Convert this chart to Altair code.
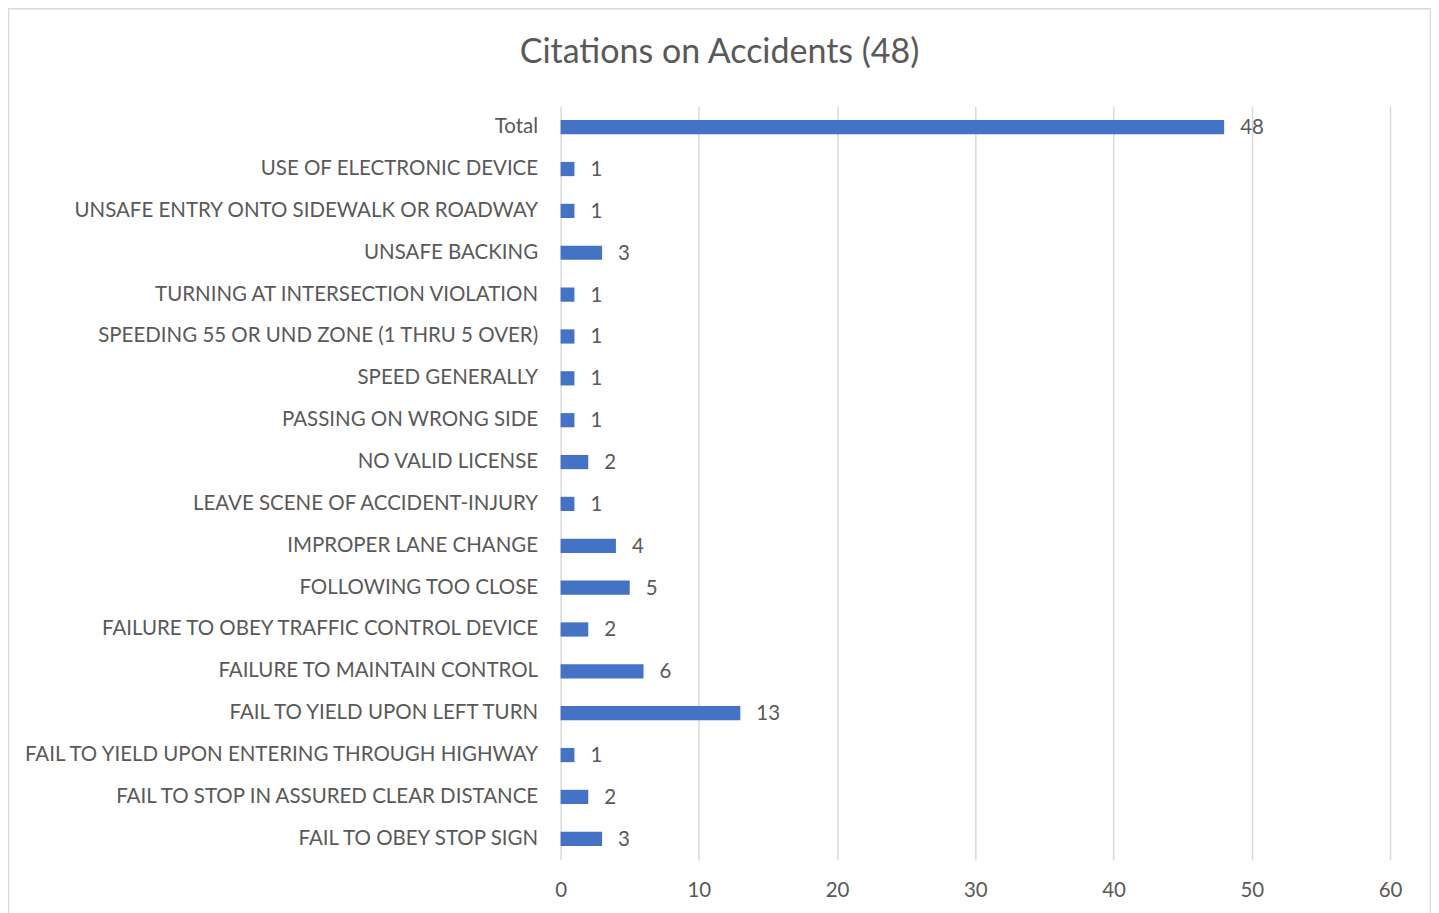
import altair as alt
import pandas as pd

categories = [
    "Total",
    "USE OF ELECTRONIC DEVICE",
    "UNSAFE ENTRY ONTO SIDEWALK OR ROADWAY",
    "UNSAFE BACKING",
    "TURNING AT INTERSECTION VIOLATION",
    "SPEEDING 55 OR UND ZONE (1 THRU 5 OVER)",
    "SPEED GENERALLY",
    "PASSING ON WRONG SIDE",
    "NO VALID LICENSE",
    "LEAVE SCENE OF ACCIDENT-INJURY",
    "IMPROPER LANE CHANGE",
    "FOLLOWING TOO CLOSE",
    "FAILURE TO OBEY TRAFFIC CONTROL DEVICE",
    "FAILURE TO MAINTAIN CONTROL",
    "FAIL TO YIELD UPON LEFT TURN",
    "FAIL TO YIELD UPON ENTERING THROUGH HIGHWAY",
    "FAIL TO STOP IN ASSURED CLEAR DISTANCE",
    "FAIL TO OBEY STOP SIGN",
]
counts = [48, 1, 1, 3, 1, 1, 1, 1, 2, 1, 4, 5, 2, 6, 13, 1, 2, 3]
x_ticks = [0, 10, 20, 30, 40, 50, 60]

df = pd.DataFrame({"category": categories, "count": counts})

FONT = "Lato"
TXT = "#595959"
W, H = 830, 754
FS = 20.5
TOP = 98

y_enc = alt.Y("category:N", sort=categories, title=None,
              scale=alt.Scale(paddingInner=0.66, paddingOuter=0.33),
              axis=alt.Axis(labelFont=FONT, labelFontSize=FS, labelColor=TXT,
                            ticks=False, domain=False, labelPadding=23,
                            labelLimit=600))
x_enc = alt.X("count:Q", title=None,
              scale=alt.Scale(domain=[0, 60], nice=False),
              axis=alt.Axis(values=x_ticks, labelFont=FONT, labelFontSize=FS,
                            labelColor=TXT, ticks=False, domain=False,
                            labelFlush=False,
                            grid=True, gridColor="#d9d9d9", gridWidth=1.5,
                            labelPadding=21))

bars = alt.Chart(df).mark_bar(color="#4472C4").encode(x=x_enc, y=y_enc)
labels = alt.Chart(df).mark_text(align="left", baseline="middle", dx=16, dy=1,
                                 font=FONT, fontSize=FS, color=TXT).encode(
    x="count:Q", y=alt.Y("category:N", sort=categories), text="count:Q")

border = alt.Chart(pd.DataFrame({"a": [0]})).mark_rect(
    fill=None, stroke="#d9d9d9", strokeWidth=1.5, clip=False).encode(
    x=alt.value(-552.5), x2=alt.value(W + 40.5),
    y=alt.value(-TOP + 0.5), y2=alt.value(H + 70))

chart = alt.layer(border, bars, labels).properties(
    width=W, height=H,
    background="white",
    title=alt.Title("Citations on Accidents (48)", font=FONT, fontSize=34,
                    fontWeight="normal", color=TXT, anchor="middle", dx=-256,
                    offset=0, dy=62),
    padding={"left": 553, "top": TOP, "right": 41, "bottom": 913 - 8 - TOP - H},
    autosize=alt.AutoSizeParams(type="none"),
).configure_view(stroke=None)

chart.save("out.html", embed_options={"renderer": "svg", "actions": False})
